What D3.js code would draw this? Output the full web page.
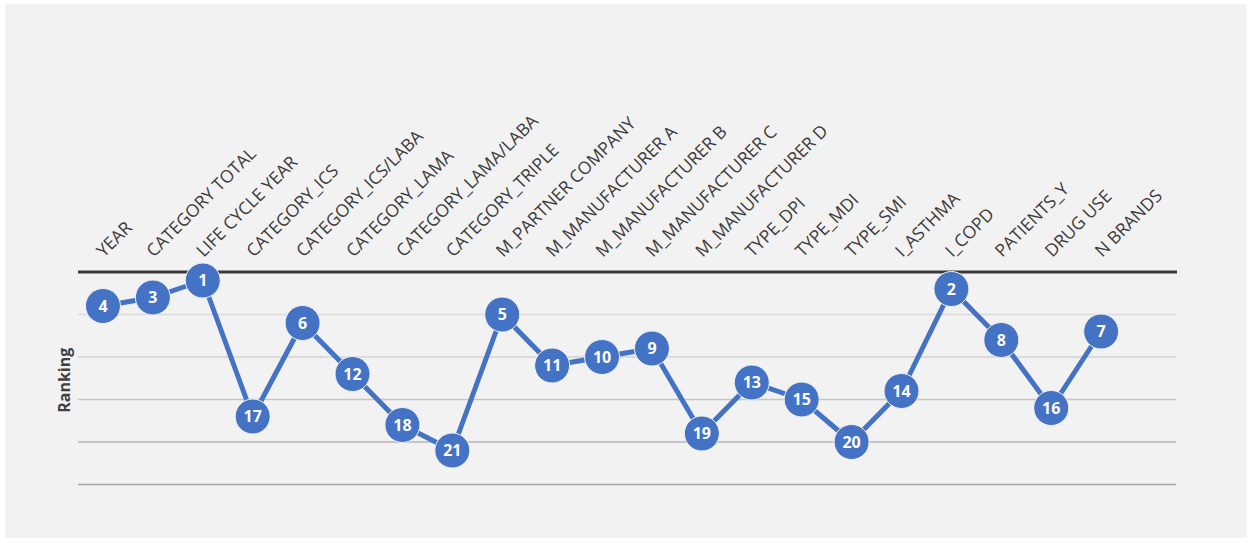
<!DOCTYPE html>
<html>
<head>
<meta charset="utf-8">
<script src="https://cdn.jsdelivr.net/npm/d3@7/dist/d3.min.js"></script>
<style>
  html, body { margin: 0; padding: 0; background: #ffffff; }
  svg { display: block; }
</style>
</head>
<body>
<div id="chart"></div>
<script>
// Variable names (x categories) and their ranking
const categories = [
  "YEAR", "CATEGORY TOTAL", "LIFE CYCLE YEAR", "CATEGORY_ICS", "CATEGORY_ICS/LABA",
  "CATEGORY_LAMA", "CATEGORY_LAMA/LABA", "CATEGORY_TRIPLE", "M_PARTNER COMPANY",
  "M_MANUFACTURER A", "M_MANUFACTURER B", "M_MANUFACTURER C", "M_MANUFACTURER D",
  "TYPE_DPI", "TYPE_MDI", "TYPE_SMI", "I_ASTHMA", "I_COPD", "PATIENTS_Y", "DRUG USE", "N BRANDS"
];
const ranks = [4, 3, 1, 17, 6, 12, 18, 21, 5, 11, 10, 9, 19, 13, 15, 20, 14, 2, 8, 16, 7];
// Gridline positions on the ranking axis
const gridTicks = [5, 10, 15, 20, 25];
const yTitle = "Ranking";

const W = 1252, H = 543;
const plotLeft = 78, plotRight = 1176, plotTop = 272, plotBottom = 484.5;

const svg = d3.select("#chart").append("svg")
  .attr("width", W).attr("height", H);

// background panel
svg.append("rect")
  .attr("x", 5).attr("y", 4).attr("width", 1242).attr("height", 534)
  .attr("fill", "#f2f2f2");

// x: 22 equal slots across the plot, one per category (last slot empty)
const slot = (plotRight - plotLeft) / (categories.length + 1);
const x = d3.scalePoint()
  .domain(categories)
  .range([plotLeft + slot / 2, plotLeft + slot / 2 + slot * (categories.length - 1)]);

const y = d3.scaleLinear().domain([0, 25]).range([plotTop, plotBottom]);

// gridlines
const gridColors = ["#dadada", "#d2d2d2", "#c6c6c6", "#b4b4b4", "#a4a4a4"];
svg.append("g").selectAll("line")
  .data(gridTicks)
  .join("line")
  .attr("x1", plotLeft).attr("x2", plotRight)
  .attr("y1", d => y(d)).attr("y2", d => y(d))
  .attr("stroke", (d, i) => gridColors[i])
  .attr("stroke-width", 1.6);

// top axis line (rank 0)
svg.append("line")
  .attr("x1", plotLeft).attr("x2", plotRight + 1)
  .attr("y1", y(0)).attr("y2", y(0))
  .attr("stroke", "#3a3a3a").attr("stroke-width", 3);

// rotated category labels above the axis
svg.append("g").selectAll("text")
  .data(categories)
  .join("text")
  .attr("transform", d => `translate(${x(d) + 1},${y(0) - 14}) rotate(-45)`)
  .attr("text-anchor", "start")
  .attr("font-family", "'Open Sans', sans-serif")
  .attr("font-size", 17.5)
  .attr("fill", "#3c3c3c")
  .text(d => d);

// y title
svg.append("text")
  .attr("transform", `translate(70,${(y(5) + y(20)) / 2 + 2}) rotate(-90)`)
  .attr("text-anchor", "middle")
  .attr("font-family", "'Open Sans', sans-serif")
  .attr("font-weight", "bold")
  .attr("font-size", 16)
  .attr("fill", "#404040")
  .text(yTitle);

const data = categories.map((c, i) => ({ c, r: ranks[i] }));
const blue = "#4472c4";

// connecting line
svg.append("path")
  .datum(data)
  .attr("fill", "none")
  .attr("stroke", blue)
  .attr("stroke-width", 5)
  .attr("stroke-linejoin", "round")
  .attr("d", d3.line().x(d => x(d.c)).y(d => y(d.r)));

// markers with rank labels
const pts = svg.append("g").selectAll("g")
  .data(data)
  .join("g")
  .attr("transform", d => `translate(${x(d.c)},${y(d.r)})`);

pts.append("circle")
  .attr("r", 17.5)
  .attr("fill", blue)
  .attr("stroke", "#f2f2f2")
  .attr("stroke-width", 1);

pts.append("text")
  .attr("text-anchor", "middle")
  .attr("dy", "0.36em")
  .attr("font-family", "'Open Sans', sans-serif")
  .attr("font-weight", "bold")
  .attr("font-size", 16)
  .attr("fill", "#ffffff")
  .text(d => d.r);
</script>
</body>
</html>
